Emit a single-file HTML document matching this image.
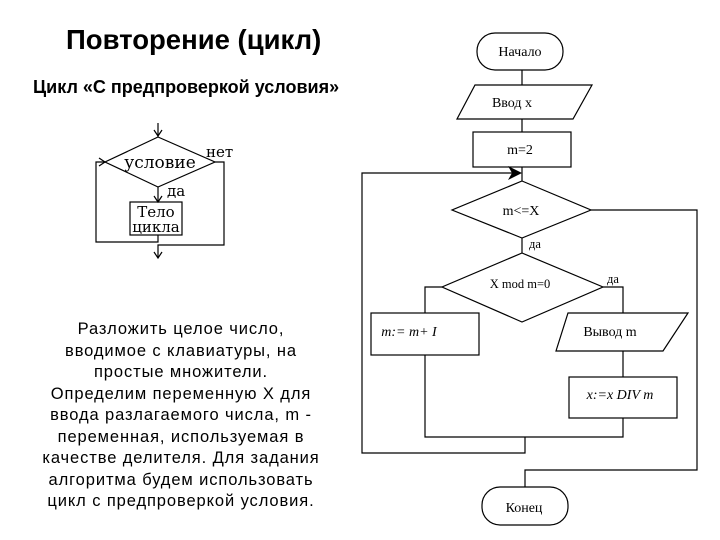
<!DOCTYPE html>
<html><head><meta charset="utf-8"><style>
body{margin:0;width:720px;height:540px;background:#fff;position:relative;overflow:hidden;font-family:"Liberation Sans",sans-serif;}
.t{position:absolute;white-space:nowrap;color:#000;}
</style></head><body>
<div class="t" style="left:66px;top:24px;font-size:27.5px;font-weight:bold;">Повторение (цикл)</div>
<div class="t" style="left:33px;top:77px;font-size:18px;font-weight:bold;">Цикл «С предпроверкой условия»</div>
<div class="t" style="left:11px;width:340px;top:319px;font-size:16.5px;letter-spacing:0.9px;line-height:21.5px;text-align:center;white-space:normal;">Разложить целое число,<br>вводимое с клавиатуры, на<br>простые множители.<br>Определим переменную X для<br>ввода разлагаемого числа, m -<br>переменная, используемая в<br>качестве делителя. Для задания<br>алгоритма будем использовать<br>цикл с предпроверкой условия.</div>
<svg width="720" height="540" style="position:absolute;left:0;top:0" font-family="Liberation Serif, serif">
<g fill="none" stroke="#000" stroke-width="1.2">
<line x1="158" y1="123" x2="158" y2="137"/>
<path d="M154,130 L158,136 L162,130"/>
<polygon points="158,137 215,162 158,187 105,162"/>
<line x1="158" y1="187" x2="158" y2="202"/>
<path d="M154,196 L158,202 L162,196"/>
<rect x="130" y="202" width="52" height="33"/>
<polyline points="158,235 158,242 96,242 96,162 105,162"/>
<path d="M99,158 L105,162 L99,166"/>
<polyline points="215,162 224,162 224,245 158,245 158,258"/>
<path d="M154,252 L158,258 L162,252"/>
<rect x="477" y="33" width="86" height="37" rx="18"/>
<line x1="522" y1="70" x2="522" y2="85"/>
<polygon points="475,85 592,85 573,119 457,119"/>
<line x1="522" y1="119" x2="522" y2="132"/>
<rect x="473" y="132" width="98" height="35"/>
<line x1="522" y1="167" x2="522" y2="181"/>
<polygon points="522,181 591,210 522,238 452,210"/>
<line x1="522" y1="238" x2="522" y2="253"/>
<polygon points="522,253 603,287 522,322 442,287"/>
<polyline points="442,287 425,287 425,313"/>
<polyline points="603,287 623,287 623,313"/>
<rect x="371" y="313" width="108" height="42"/>
<polygon points="568,313 688,313 663,351 556,351"/>
<line x1="623" y1="351" x2="623" y2="377"/>
<rect x="569" y="377" width="108" height="41"/>
<polyline points="425,355 425,437 623,437 623,418"/>
<polyline points="525,437 525,453 362,453 362,173 520,173"/>
<polyline points="591,210 697,210 697,470 525,470 525,487"/>
<rect x="482" y="487" width="86" height="38" rx="18"/>
</g>
<polygon points="522,173 508,166 512,173 508,180" fill="#000"/>
<g font-size="14" text-anchor="middle" fill="#000">
<text x="520" y="56">Начало</text>
<text x="512" y="107">Ввод x</text>
<text x="520" y="154">m=2</text>
<text x="521" y="215">m&lt;=X</text>
<text x="520" y="288" font-size="12.5">X mod  m=0</text>
<text x="409" y="336" font-style="italic">m:= m+ I</text>
<text x="610" y="336">Вывод m</text>
<text x="620" y="399" font-style="italic">x:=x DIV m</text>
<text x="524" y="512">Конец</text>
<text x="535" y="248" font-size="12.5">да</text>
<text x="613" y="283" font-size="12.5">да</text>
</g>
<g font-size="17" fill="#000" font-family="DejaVu Serif, serif">
<text x="160" y="168" text-anchor="middle">условие</text>
<text x="206" y="157" font-size="15">нет</text>
<text x="167" y="196" font-size="15">да</text>
<text x="156" y="217" text-anchor="middle" font-size="15">Тело</text>
<text x="156" y="232" text-anchor="middle" font-size="15">цикла</text>
</g>
</svg>
</body></html>
